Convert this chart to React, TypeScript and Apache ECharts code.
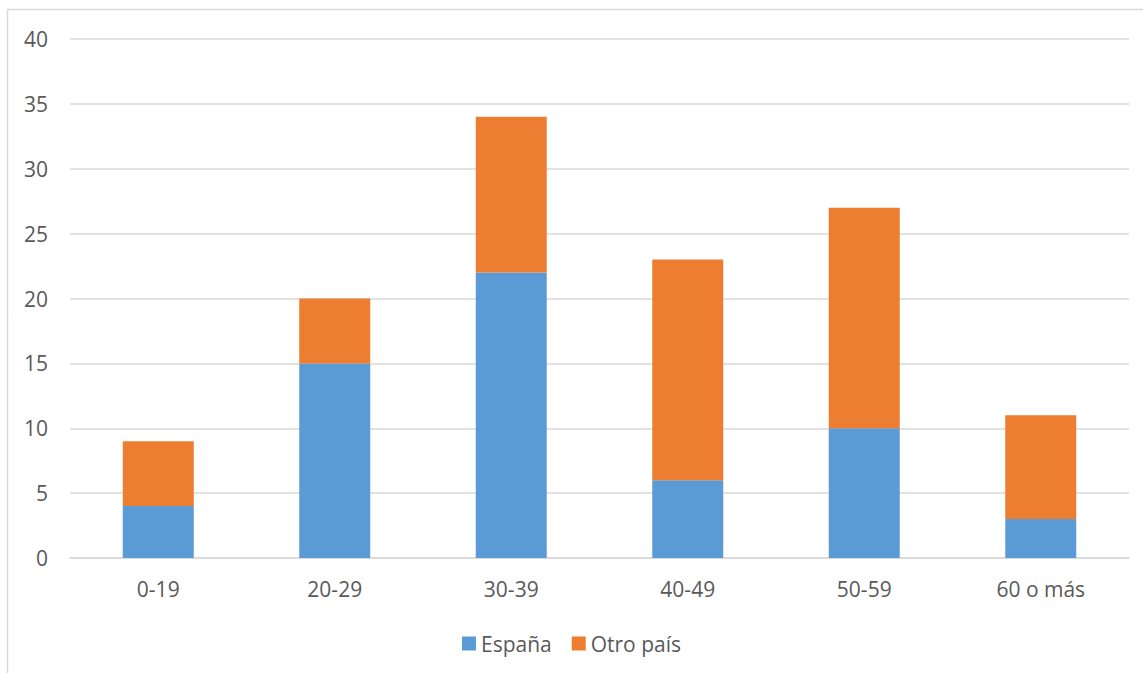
import React, { useEffect, useRef } from "react";
import * as echarts from "echarts";

const categories = ["0-19", "20-29", "30-39", "40-49", "50-59", "60 o más"];
const espana = [4, 15, 22, 6, 10, 3];
const otroPais = [5, 5, 12, 17, 17, 8];
const seriesNames = ["España", "Otro país"];

export default function App() {
  const ref = useRef<HTMLDivElement>(null);
  useEffect(() => {
    document.body.style.margin = "0";
    const chart = echarts.init(ref.current!, undefined, { renderer: "svg" });
    const font = "'Open Sans', 'Noto Sans', sans-serif";
    chart.setOption({
      animation: false,
      backgroundColor: "#ffffff",
      graphic: [
        {
          type: "rect",
          shape: { x: 7.5, y: 9.5, width: 1300, height: 800 },
          style: { fill: "none", stroke: "#d9d9d9", lineWidth: 1.5 },
          silent: true,
        },
      ],
      grid: { left: 70, right: 14, top: 39, bottom: 115 },
      legend: {
        top: 628,
        left: "center",
        itemWidth: 14,
        itemHeight: 14,
        itemGap: 20,
        itemStyle: { borderWidth: 0 },
        icon: "rect",
        textStyle: { color: "#595959", fontSize: 21, fontFamily: font },
        data: seriesNames,
      },
      xAxis: {
        type: "category",
        data: categories,
        axisLine: { lineStyle: { color: "#d9d9d9", width: 1.5 } },
        axisTick: { show: false },
        axisLabel: { color: "#595959", fontSize: 21, fontFamily: font, margin: 20 },
      },
      yAxis: {
        type: "value",
        min: 0,
        max: 40,
        interval: 5,
        axisLine: { show: false },
        axisTick: { show: false },
        splitLine: { lineStyle: { color: "#d9d9d9", width: 1.5 } },
        axisLabel: { color: "#595959", fontSize: 21, fontFamily: font, margin: 22 },
      },
      series: [
        {
          name: seriesNames[0],
          type: "bar",
          stack: "total",
          data: espana,
          barWidth: 71,
          itemStyle: { color: "#5b9bd5" },
        },
        {
          name: seriesNames[1],
          type: "bar",
          stack: "total",
          data: otroPais,
          barWidth: 71,
          itemStyle: { color: "#ed7d31" },
        },
      ],
    });
    return () => chart.dispose();
  }, []);
  return <div ref={ref} style={{ width: 1143, height: 673 }} />;
}
